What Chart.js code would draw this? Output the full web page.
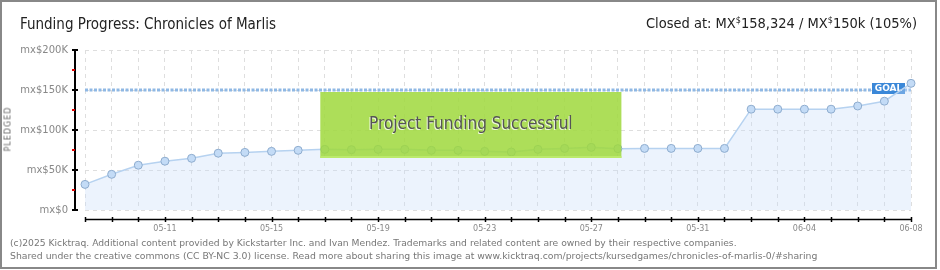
<!DOCTYPE html>
<html lang="en">
<head>
    <meta charset="UTF-8">
    <title>Funding Progress</title>
    <script src="https://cdn.jsdelivr.net/npm/chart.js@4.4.1/dist/chart.umd.min.js"></script>
</head>
<style>
    body {
        margin: 0;
        background: #fff;
    }

    .frame {
        position: absolute;
        left: 0; top: 0;
        width: 933px; height: 265px;
        border: 2px solid #888;
    }

    .title {
        position: absolute;
        top: 15px;
        font-family: 'Liberation Sans Narrow', 'DejaVu Sans Condensed', Roboto, sans-serif;
        font-size: 15px;
        color: #222;
        white-space: nowrap;
    }

    .title sup {
        font-size: 9px;
        vertical-align: 5px;
    }

    .pledged {
        position: absolute;
        left: -14px; top: 125px;
        width: 44px;
        transform: rotate(-90deg);
        font-family: 'DejaVu Sans', sans-serif;
        font-size: 8px;
        letter-spacing: 1px;
        color: #666;
        text-align: center;
    }

    .footer {
        position: absolute;
        left: 10px;
        font-family: 'DejaVu Sans', sans-serif;
        font-size: 9.2px;
        color: #777;
        white-space: nowrap;
    }
</style>
<body>
    <div class="frame"></div>
    <canvas id="myChart" width="940" height="270" style="position:absolute;left:0;top:0"></canvas>

    <div class="title" style="left:20px">Funding Progress: Chronicles of Marlis</div>
    <div class="title" style="right:23px; font-size:14.5px">Closed at: MX<sup>$</sup>158,324 / MX<sup>$</sup>150k (105%)</div>
    <div class="pledged">PLEDGED</div>

    <div class="footer" style="top:237px">(c)2025 Kicktraq. Additional content provided by Kickstarter Inc. and Ivan Mendez. Trademarks and related content are owned by their respective companies.</div>
    <div class="footer" style="top:250px; font-size:9.3px">Shared under the creative commons (CC BY-NC 3.0) license. Read more about sharing this image at www.kicktraq.com/projects/kursedgames/chronicles-of-marlis-0/#sharing</div>

    <script>
        const dates = ['05-08','05-09','05-10','05-11','05-12','05-13','05-14','05-15',
                       '05-16','05-17','05-18','05-19','05-20','05-21','05-22','05-23',
                       '05-24','05-25','05-26','05-27','05-28','05-29','05-30','05-31',
                       '06-01','06-02','06-03','06-04','06-05','06-06','06-07','06-08']

        const pledged = [32000, 44600, 56000, 61000, 64600, 71000, 72000, 73300,
                         74600, 75800, 75400, 75800, 75800, 74600, 74600, 73300,
                         72500, 75800, 77000, 78300, 76700, 77000, 77000, 77000,
                         77000, 126000, 126000, 126000, 126000, 130000, 136000, 158324]

        const goal = 150000
        const yTicks = [0, 50000, 100000, 150000, 200000]

        const kLabel = (v) => v === 0 ? 'mx$0' : `mx$${v / 1000}K`

        const axesPlugin = {
            id: 'axes',
            afterDatasetDraw(chart, args) {
                // goal tag sits over the goal line, under the pledged line
                if (args.index !== 1) return
                const ctx = chart.ctx
                const x = chart.scales.x, y = chart.scales.y
                const right = x.getPixelForValue(dates.length - 1)
                const gy = y.getPixelForValue(goal)
                ctx.save()
                ctx.fillStyle = '#3b88d8'
                ctx.fillRect(right - 39, gy - 7, 33, 11)
                ctx.fillStyle = '#fff'
                ctx.font = 'bold 9px "DejaVu Sans", sans-serif'
                ctx.textAlign = 'center'
                ctx.textBaseline = 'middle'
                ctx.fillText('GOAL', right - 22.5, gy - 1.5)
                ctx.restore()
            },
            afterDatasetsDraw(chart) {
                const ctx = chart.ctx
                const area = chart.chartArea
                const x = chart.scales.x, y = chart.scales.y

                ctx.save()
                // success banner
                const bx1 = x.getPixelForValue(9) - 4.5
                const bx2 = x.getPixelForValue(20) + 3.5
                const by1 = y.getPixelForValue(goal) + 2
                const by2 = y.getPixelForValue(65000)
                ctx.fillStyle = 'rgba(160, 216, 62, 0.86)'
                ctx.fillRect(bx1, by1, bx2 - bx1, by2 - by1)
                ctx.fillStyle = 'rgba(190, 235, 110, 0.9)'
                ctx.fillRect(bx1, by2 - 2, bx2 - bx1, 2)
                ctx.font = '17px "Liberation Sans Narrow", "DejaVu Sans Condensed", Roboto, sans-serif'
                ctx.textAlign = 'center'
                ctx.textBaseline = 'middle'
                ctx.fillStyle = 'rgba(255,255,255,0.8)'
                ctx.fillText('Project Funding Successful', (bx1 + bx2) / 2 - 1, (by1 + by2) / 2 + 1)
                ctx.fillStyle = '#555'
                ctx.fillText('Project Funding Successful', (bx1 + bx2) / 2, (by1 + by2) / 2)

                // y axis
                const ax = area.left - 10
                ctx.strokeStyle = '#000'
                ctx.lineWidth = 2
                ctx.beginPath()
                ctx.moveTo(ax, y.getPixelForValue(200000))
                ctx.lineTo(ax, y.getPixelForValue(0))
                ctx.stroke()
                yTicks.forEach(v => {
                    const py = Math.round(y.getPixelForValue(v))
                    ctx.beginPath()
                    ctx.moveTo(ax - 3, py)
                    ctx.lineTo(ax + 3, py)
                    ctx.stroke()
                })
                ctx.strokeStyle = '#e00000'
                ctx.lineWidth = 2
                yTicks.slice(1).forEach(v => {
                    const py = Math.round(y.getPixelForValue(v - 25000))
                    ctx.beginPath()
                    ctx.moveTo(ax - 3, py)
                    ctx.lineTo(ax, py)
                    ctx.stroke()
                })

                // x axis
                const ay = area.bottom + 9.5
                ctx.strokeStyle = '#000'
                ctx.lineWidth = 1.5
                ctx.beginPath()
                ctx.moveTo(x.getPixelForValue(0), ay)
                ctx.lineTo(x.getPixelForValue(dates.length - 1), ay)
                ctx.stroke()
                dates.forEach((d, i) => {
                    const px = Math.round(x.getPixelForValue(i)) + 0.5
                    ctx.beginPath()
                    ctx.moveTo(px, ay - 2.5)
                    ctx.lineTo(px, ay + 2.5)
                    ctx.stroke()
                })
                ctx.restore()
            }
        }

        const chart = new Chart('myChart', {
            type: 'line',
            data: {
                labels: dates,
                datasets: [{
                    label: 'pledged',
                    data: pledged,
                    order: 0,
                    borderColor: '#b6d2f0',
                    borderWidth: 1.5,
                    backgroundColor: 'rgba(200, 222, 248, 0.35)',
                    fill: 'origin',
                    tension: 0,
                    pointRadius: 4,
                    pointBackgroundColor: '#c3dbf6',
                    pointBorderColor: '#8eacce',
                    pointBorderWidth: 1
                }, {
                    label: 'goal',
                    data: dates.map(() => goal),
                    order: 1,
                    borderColor: '#8fb8e4',
                    borderWidth: 3,
                    borderDash: [3, 1.5],
                    fill: false,
                    pointRadius: 0
                }]
            },
            options: {
                responsive: false,
                animation: false,
                devicePixelRatio: 1,
                layout: {
                    padding: { top: 50, right: 29, bottom: 30, left: 0 }
                },
                plugins: {
                    legend: { display: false },
                    tooltip: { enabled: false }
                },
                scales: {
                    x: {
                        offset: false,
                        afterFit: (s) => { s.height = 30 },
                        grid: { color: '#dedede', drawTicks: false, offset: false },
                        border: { display: false, dash: [4, 4] },
                        ticks: {
                            autoSkip: false,
                            maxRotation: 0,
                            padding: 14,
                            color: '#888',
                            font: { family: '"DejaVu Sans", sans-serif', size: 8 },
                            callback: (v, i) => (i - 3) % 4 === 0 ? dates[i] : ''
                        }
                    },
                    y: {
                        min: 0,
                        max: 200000,
                        afterFit: (s) => { s.width = 85 },
                        afterBuildTicks: (s) => { s.ticks = yTicks.map(v => ({ value: v })) },
                        grid: { color: '#dedede', drawTicks: false },
                        border: { display: false, dash: [4, 4] },
                        ticks: {
                            padding: 17,
                            color: '#888',
                            font: { family: '"DejaVu Sans", sans-serif', size: 10 },
                            callback: (v) => kLabel(v)
                        }
                    }
                }
            },
            plugins: [axesPlugin]
        })
    </script>
</body>
</html>
